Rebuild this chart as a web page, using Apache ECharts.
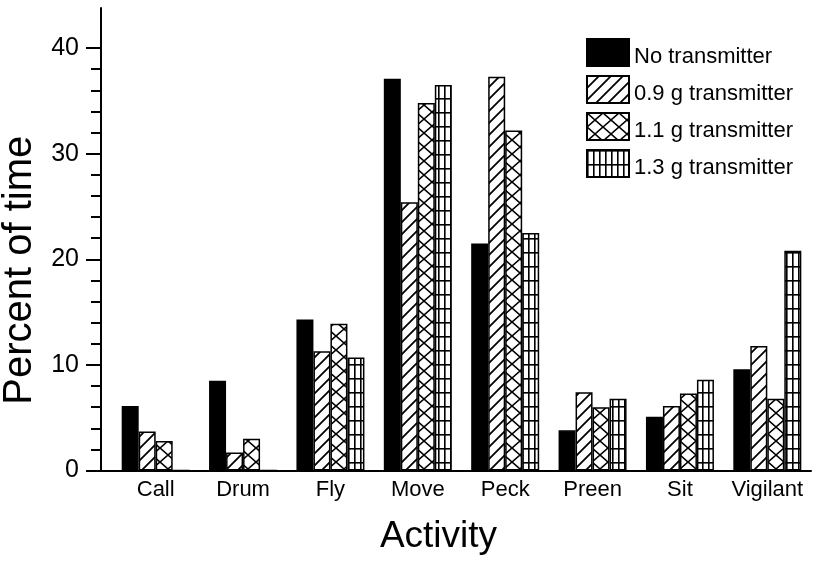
<!DOCTYPE html>
<html>
<head>
<meta charset="utf-8">
<script src="https://cdn.jsdelivr.net/npm/echarts@6/dist/echarts.min.js"></script>
<style>html,body{margin:0;padding:0;background:#fff}#c{width:816px;height:563px}</style>
</head>
<body>
<div id="c"></div>
<script>
var categories = ['Call', 'Drum', 'Fly', 'Move', 'Peck', 'Preen', 'Sit', 'Vigilant'];
var seriesNames = ['No transmitter', '0.9 g transmitter', '1.1 g transmitter', '1.3 g transmitter'];
var noTransmitter = [6.1, 8.5, 14.3, 37.1, 21.5, 3.8, 5.1, 9.6];
var tx09 = [3.7, 1.7, 11.3, 25.4, 37.3, 7.4, 6.1, 11.8];
var tx11 = [2.8, 3.0, 13.9, 34.8, 32.2, 6.0, 7.3, 6.8];
var tx13 = [0, 0, 10.7, 36.5, 22.5, 6.8, 8.6, 20.8];
var yMajorTicks = [0, 10, 20, 30, 40];
var yMinorTicks = [2, 4, 6, 8, 12, 14, 16, 18, 22, 24, 26, 28, 32, 34, 36, 38];
var yMax = 43.8;

function makePattern(kind) {
  var c = document.createElement('canvas');
  var ctx;
  if (kind === 'hatch') {
    c.width = 12; c.height = 12; ctx = c.getContext('2d');
    ctx.fillStyle = '#fff'; ctx.fillRect(0, 0, 12, 12);
    ctx.strokeStyle = '#000'; ctx.lineWidth = 1.8;
    ctx.beginPath();
    ctx.moveTo(-2, 14); ctx.lineTo(14, -2);
    ctx.moveTo(-2, 2); ctx.lineTo(2, -2);
    ctx.moveTo(10, 14); ctx.lineTo(14, 10);
    ctx.stroke();
  } else if (kind === 'cross') {
    c.width = 16; c.height = 14; ctx = c.getContext('2d');
    ctx.fillStyle = '#fff'; ctx.fillRect(0, 0, 16, 14);
    ctx.strokeStyle = '#000'; ctx.lineWidth = 1.6;
    ctx.beginPath();
    ctx.moveTo(0, 0); ctx.lineTo(16, 14);
    ctx.moveTo(0, 14); ctx.lineTo(16, 0);
    ctx.stroke();
  } else {
    c.width = 6; c.height = 14; ctx = c.getContext('2d');
    ctx.fillStyle = '#fff'; ctx.fillRect(0, 0, 6, 14);
    ctx.fillStyle = '#000';
    ctx.fillRect(0, 0, 1.6, 14);
    ctx.fillRect(0, 0, 6, 1.6);
  }
  return { image: c, repeat: 'repeat' };
}

var fills = ['#000', makePattern('hatch'), makePattern('cross'), makePattern('grid')];
var dataSets = [noTransmitter, tx09, tx11, tx13];
var font = "'Liberation Sans', Arial, Helvetica, sans-serif";

var series = dataSets.map(function (d, i) {
  return {
    name: seriesNames[i],
    type: 'bar',
    xAxisIndex: 0,
    yAxisIndex: 0,
    data: d,
    barWidth: 17,
    barGap: '0%',
    itemStyle: { color: fills[i], borderColor: '#000', borderWidth: 1.5 },
    emphasis: { disabled: true },
    animation: false
  };
});

var chart = echarts.init(document.getElementById('c'), null, { renderer: 'canvas' });
chart.setOption({
  animation: false,
  backgroundColor: '#fff',
  grid: [
    { left: 112, right: 5, top: 8, bottom: 92.5, containLabel: false, outerBoundsMode: 'none' },
    { left: 101, right: 5, top: 8, bottom: 92.5, containLabel: false, outerBoundsMode: 'none' }
  ],
  legend: {
    orient: 'vertical',
    left: 581,
    top: 33,
    icon: 'rect',
    itemWidth: 42,
    itemHeight: 27,
    itemGap: 7,
    selectedMode: false,
    data: seriesNames,
    formatter: '{t|{name}}',
    textStyle: {
      fontFamily: font, fontSize: 22, color: '#000',
      rich: { t: { fontFamily: font, fontSize: 22, color: '#000', padding: [9, 0, 0, 0] } }
    }
  },
  xAxis: [
    {
      type: 'category',
      gridIndex: 0,
      data: categories,
      axisLine: { show: false },
      axisTick: { show: false },
      axisLabel: { interval: 0, color: '#000', fontFamily: font, fontSize: 22, margin: 8 },
      name: 'Activity',
      nameLocation: 'middle',
      nameGap: 48,
      nameTextStyle: { color: '#000', fontFamily: font, fontSize: 37, padding: [0, 46, 0, 0] }
    },
    {
      type: 'value',
      gridIndex: 1,
      position: 'bottom',
      min: 0,
      max: 1,
      axisLine: { show: true, lineStyle: { color: '#000', width: 2 } },
      axisTick: { show: false },
      axisLabel: { show: false },
      splitLine: { show: false }
    }
  ],
  yAxis: [
    {
      type: 'value',
      gridIndex: 0,
      min: 0,
      max: yMax,
      show: false,
      splitLine: { show: false }
    },
    {
      type: 'value',
      gridIndex: 1,
      position: 'left',
      offset: 0,
      min: 0,
      max: yMax,
      interval: 10,
      axisLine: { show: true, lineStyle: { color: '#000', width: 2 } },
      axisTick: { show: true, customValues: yMajorTicks, length: 15, lineStyle: { color: '#000', width: 2 } },
      axisLabel: { customValues: yMajorTicks, color: '#000', fontFamily: font, fontSize: 25, margin: 22 },
      splitLine: { show: false },
      name: 'Percent of time',
      nameLocation: 'middle',
      nameGap: 61,
      nameTextStyle: { color: '#000', fontFamily: font, fontSize: 40, padding: [0, 62, 0, 0] }
    },
    {
      type: 'value',
      gridIndex: 1,
      position: 'left',
      offset: 0,
      min: 0,
      max: yMax,
      interval: 2,
      axisLine: { show: false },
      axisTick: { show: true, customValues: yMinorTicks, length: 10, lineStyle: { color: '#000', width: 2 } },
      axisLabel: { show: false },
      splitLine: { show: false }
    }
  ],
  series: series
});
</script>
</body>
</html>
